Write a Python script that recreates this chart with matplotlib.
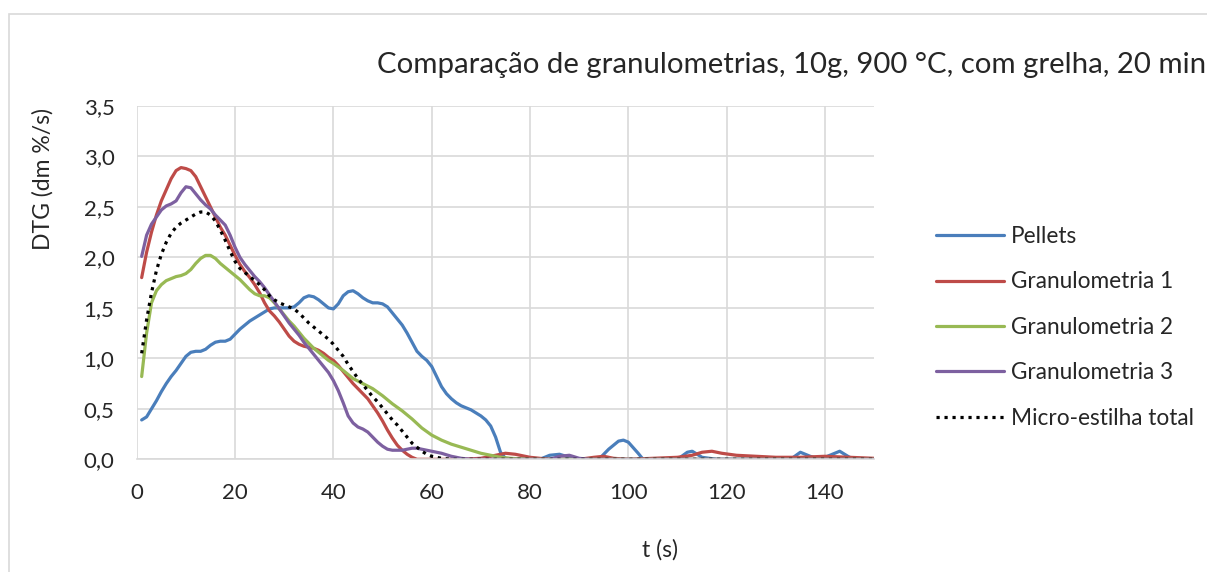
import numpy as np
import matplotlib
matplotlib.use("Agg")
import matplotlib.pyplot as plt
from matplotlib.patches import Rectangle

plt.rcParams['font.family'] = ['Lato', 'DejaVu Sans']

# --- data ---
t_pellets = [1, 2, 3, 4, 5, 6, 7, 8, 9, 10, 11, 12, 13, 14, 15, 16, 17, 18, 19, 20,
             21, 22, 23, 24, 25, 26, 27, 28, 29, 30, 31, 32, 33, 34, 35, 36, 37, 38, 39, 40,
             41, 42, 43, 44, 45, 46, 47, 48, 49, 50, 51, 52, 53, 54, 55, 56, 57, 58, 59, 60,
             61, 62, 63, 64, 65, 66, 67, 68, 69, 70, 71, 72, 73, 74, 75, 78, 82, 84, 86, 88,
             90, 94, 96, 98, 99, 100, 102, 103, 110, 112, 113, 115, 118, 133, 135, 137, 139,
             141, 143, 145, 147, 150]
y_pellets = [0.39, 0.42, 0.50, 0.58, 0.67, 0.75, 0.82, 0.88, 0.95, 1.02, 1.06, 1.07, 1.07, 1.09,
             1.13, 1.16, 1.17, 1.17, 1.19, 1.24, 1.29, 1.33, 1.37, 1.40, 1.43, 1.46, 1.49, 1.50,
             1.50, 1.50, 1.50, 1.51, 1.55, 1.60, 1.62, 1.61, 1.58, 1.54, 1.50, 1.49, 1.54, 1.62,
             1.66, 1.67, 1.64, 1.60, 1.57, 1.55, 1.55, 1.54, 1.51, 1.45, 1.39, 1.33, 1.25, 1.16,
             1.07, 1.02, 0.98, 0.92, 0.82, 0.72, 0.65, 0.60, 0.56, 0.53, 0.51, 0.49, 0.46, 0.43,
             0.39, 0.33, 0.22, 0.07, 0.01, 0.0, 0.0, 0.04, 0.05, 0.02, 0.0, 0.0, 0.10, 0.18,
             0.19, 0.17, 0.06, 0.0, 0.0, 0.07, 0.08, 0.02, 0.0, 0.0, 0.07, 0.03, 0.0, 0.04,
             0.08, 0.02, 0.0, 0.0]

t_gran1 = [1, 2, 3, 4, 5, 6, 7, 8, 9, 10, 11, 12, 13, 14, 15, 16, 17, 18, 19, 20,
           21, 22, 23, 24, 25, 26, 27, 28, 29, 30, 31, 32, 33, 34, 35, 36, 37, 38, 39, 40,
           41, 42, 43, 44, 45, 46, 47, 48, 49, 50, 51, 52, 53, 54, 55, 56, 57, 60, 66, 70,
           73, 75, 77, 80, 84, 90, 93, 95, 97, 100, 105, 110, 113, 115, 117, 119, 122, 126,
           130, 135, 140, 145, 150]
y_gran1 = [1.80, 2.05, 2.25, 2.42, 2.56, 2.67, 2.78, 2.86, 2.89, 2.88, 2.86, 2.80, 2.70, 2.60,
           2.50, 2.40, 2.30, 2.22, 2.12, 2.02, 1.93, 1.86, 1.80, 1.73, 1.65, 1.55, 1.47, 1.42,
           1.36, 1.29, 1.22, 1.17, 1.14, 1.12, 1.11, 1.10, 1.08, 1.05, 1.01, 0.98, 0.93, 0.87,
           0.81, 0.75, 0.70, 0.65, 0.60, 0.53, 0.46, 0.38, 0.29, 0.21, 0.14, 0.09, 0.05, 0.02,
           0.0, 0.0, 0.0, 0.01, 0.04, 0.06, 0.05, 0.02, 0.0, 0.0, 0.02, 0.03, 0.01, 0.0, 0.01,
           0.02, 0.04, 0.07, 0.08, 0.06, 0.04, 0.03, 0.02, 0.02, 0.03, 0.02, 0.01]

t_gran2 = [1, 2, 3, 4, 5, 6, 7, 8, 9, 10, 11, 12, 13, 14, 15, 16, 17, 18, 19, 20,
           21, 22, 23, 24, 25, 26, 27, 28, 29, 30, 31, 32, 33, 34, 35, 36, 37, 38, 39, 40,
           42, 44, 46, 48, 50, 52, 54, 56, 58, 60, 62, 64, 66, 68, 70, 72, 74, 76, 80, 150]
y_gran2 = [0.82, 1.25, 1.55, 1.67, 1.73, 1.77, 1.79, 1.81, 1.82, 1.84, 1.88, 1.94, 1.99, 2.02,
           2.02, 1.99, 1.94, 1.90, 1.86, 1.82, 1.78, 1.73, 1.68, 1.64, 1.62, 1.62, 1.60, 1.55,
           1.49, 1.43, 1.37, 1.32, 1.26, 1.20, 1.15, 1.10, 1.06, 1.02, 0.98, 0.95, 0.88, 0.80,
           0.75, 0.70, 0.63, 0.55, 0.48, 0.40, 0.31, 0.24, 0.19, 0.15, 0.12, 0.09, 0.06, 0.04,
           0.02, 0.01, 0.0, 0.0]

t_gran3 = [1, 2, 3, 4, 5, 6, 7, 8, 9, 10, 11, 12, 13, 14, 15, 16, 17, 18, 19, 20,
           21, 22, 23, 24, 25, 26, 27, 28, 29, 30, 31, 32, 33, 34, 35, 36, 37, 38, 39, 40,
           41, 42, 43, 44, 45, 46, 47, 48, 49, 50, 51, 52, 53, 54, 55, 56, 57, 58, 60, 62,
           64, 66, 68, 84, 86, 88, 90, 92, 150]
y_gran3 = [2.01, 2.22, 2.33, 2.40, 2.47, 2.51, 2.53, 2.56, 2.64, 2.70, 2.69, 2.63, 2.57, 2.52,
           2.48, 2.42, 2.37, 2.32, 2.22, 2.10, 2.00, 1.93, 1.87, 1.81, 1.76, 1.70, 1.63, 1.56,
           1.49, 1.42, 1.35, 1.29, 1.23, 1.16, 1.10, 1.04, 0.98, 0.92, 0.86, 0.78, 0.68, 0.56,
           0.43, 0.36, 0.32, 0.30, 0.27, 0.22, 0.17, 0.13, 0.10, 0.09, 0.09, 0.09, 0.10, 0.11,
           0.11, 0.10, 0.08, 0.06, 0.03, 0.01, 0.0, 0.0, 0.03, 0.04, 0.01, 0.0, 0.0]

t_micro = [1, 2, 3, 4, 5, 6, 7, 8, 9, 10, 11, 12, 13, 14, 15, 16, 17, 18, 19, 20,
           21, 22, 23, 24, 25, 26, 27, 28, 29, 30, 31, 32, 33, 34, 35, 36, 37, 38, 39, 40,
           41, 42, 43, 44, 45, 46, 47, 48, 49, 50, 51, 52, 53, 54, 55, 56, 57, 58, 59, 60,
           62, 64, 150]
y_micro = [1.05, 1.38, 1.65, 1.87, 2.03, 2.15, 2.24, 2.30, 2.34, 2.37, 2.40, 2.43, 2.45, 2.45,
           2.42, 2.36, 2.27, 2.17, 2.06, 1.96, 1.89, 1.85, 1.81, 1.77, 1.73, 1.68, 1.62, 1.58,
           1.55, 1.53, 1.51, 1.49, 1.45, 1.40, 1.35, 1.31, 1.27, 1.23, 1.19, 1.14, 1.08, 1.02,
           0.94, 0.87, 0.80, 0.74, 0.68, 0.62, 0.57, 0.51, 0.45, 0.39, 0.34, 0.28, 0.22, 0.16,
           0.12, 0.08, 0.05, 0.03, 0.01, 0.0, 0.0]

labels = ["Pellets", "Granulometria 1", "Granulometria 2", "Granulometria 3",
          "Micro-estilha total"]
colors = ["#4A7EBB", "#BE4B48", "#98B954", "#7D60A0", "black"]
xticks = [0, 20, 40, 60, 80, 100, 120, 140]
yticks = [0.0, 0.5, 1.0, 1.5, 2.0, 2.5, 3.0, 3.5]

fig = plt.figure(figsize=(12.07, 5.72), dpi=100)
ax = fig.add_axes([0.1133, 0.197, 0.6109, 0.6177])

series = [(t_pellets, y_pellets), (t_gran1, y_gran1), (t_gran2, y_gran2),
          (t_gran3, y_gran3)]
for (t, y), lab, c in zip(series, labels[:4], colors[:4]):
    ax.plot(t, y, color=c, lw=2.3, label=lab, solid_capstyle='round')
ax.plot(t_micro, y_micro, color=colors[4], lw=2.3, ls=(0, (1, 1.5)), label=labels[4])

ax.set_xlim(0, 150)
ax.set_ylim(0, 3.5)
ax.set_xticks(xticks)
ax.set_yticks(yticks)
ax.set_xticklabels([str(v) for v in xticks])
ax.set_yticklabels([f"{v:.1f}".replace(".", ",") for v in yticks])
ax.grid(True, color="#D9D9D9", lw=1.2)
ax.set_axisbelow(True)
for s in ["top", "right", "left"]:
    ax.spines[s].set_visible(False)
ax.spines["bottom"].set_color("#D9D9D9")
ax.spines["bottom"].set_linewidth(1.2)
ax.tick_params(length=0, labelsize=16, colors="#262626")
ax.tick_params(axis="y", pad=16)
ax.tick_params(axis="x", pad=17)

fig.text(377 / 1207, 1 - 65 / 572, "Comparação de granulometrias, 10g, 900 °C, com grelha, 20 min",
         ha="left", va="center", fontsize=21.2, color="#262626")
fig.text(43 / 1207, 1 - 179 / 572, "DTG (dm %/s)", rotation=90, ha="center", va="center",
         fontsize=16.5, color="#262626")
fig.text(660 / 1207, 1 - 550 / 572, "t (s)", ha="center", va="center", fontsize=16.5,
         color="#262626")

fig.legend(loc="upper left", bbox_to_anchor=(936 / 1207, 1 - 226 / 572), frameon=False,
           fontsize=16.3, handlelength=3.0, handletextpad=0.3, labelspacing=1.08,
           borderpad=0, borderaxespad=0, labelcolor="#262626")

fig.patches.append(Rectangle((9 / 1207, -0.1), 1.2, 1.1 - 14 / 572, transform=fig.transFigure,
                             fill=False, edgecolor="#D9D9D9", lw=1.2))

fig.savefig("out.png", dpi=100)
